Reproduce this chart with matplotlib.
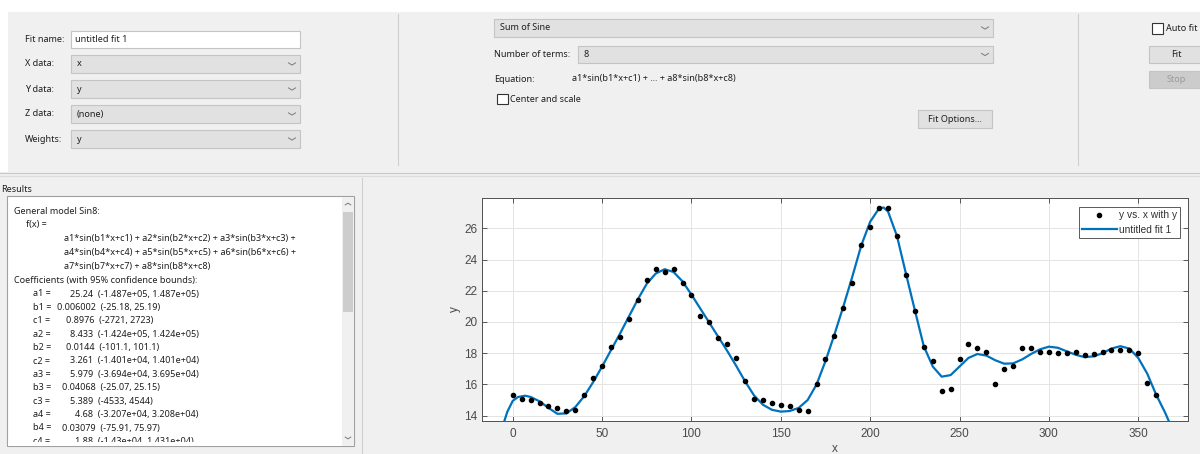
import numpy as np
import matplotlib.pyplot as plt
from matplotlib.patches import Rectangle
from matplotlib.lines import Line2D

# ---- data ----
x_data = [0, 5, 10, 15, 20, 25, 30, 35, 40, 45, 50, 55, 60, 65, 70, 75, 80, 85, 90, 95,
          100, 105, 110, 115, 120, 125, 130, 135, 140, 145, 150, 155, 160, 165, 170, 175,
          180, 185, 190, 195, 200, 205, 210, 215, 220, 225, 230, 235, 240, 245, 250, 255,
          260, 265, 270, 275, 280, 285, 290, 295, 300, 305, 310, 315, 320, 325, 330, 335,
          340, 345, 350, 355, 360]
y_data = [15.30, 15.09, 15.00, 14.81, 14.60, 14.49, 14.30, 14.38, 15.30, 16.41, 17.20, 18.40,
          19.02, 20.21, 21.41, 22.71, 23.42, 23.20, 23.42, 22.50, 21.71, 20.41, 20.00, 19.00,
          18.61, 17.69, 16.20, 15.09, 15.00, 14.81, 14.70, 14.60, 14.38, 14.30, 16.00, 17.61,
          19.12, 20.92, 22.50, 24.91, 26.11, 27.32, 27.32, 25.51, 23.01, 20.70, 18.40, 17.50,
          15.60, 15.71, 17.61, 18.61, 18.31, 18.10, 16.00, 17.01, 17.20, 18.31, 18.31, 18.10,
          18.10, 17.99, 17.99, 18.10, 17.91, 17.95, 18.10, 18.21, 18.21, 18.21, 17.99, 16.11,
          15.30]

# fitted curve
x_fit = [-5, -3, 0, 3, 7, 10, 15, 20, 25, 30, 35, 40, 45, 50, 55, 60, 65, 70, 75, 80, 85,
         90, 95, 100, 105, 110, 115, 120, 125, 130, 135, 140, 145, 150, 155, 160, 165, 170,
         175, 180, 185, 190, 195, 200, 205, 207.5, 210, 215, 220, 225, 230, 235, 240, 245,
         250, 255, 260, 265, 270, 275, 280, 285, 290, 295, 300, 305, 310, 315, 320, 325,
         330, 335, 340, 345, 350, 355, 360, 365, 370]
y_fit = [13.55, 14.26, 14.95, 15.20, 15.28, 15.20, 14.92, 14.50, 14.12, 14.15, 14.55, 15.25,
         16.15, 17.15, 18.20, 19.25, 20.35, 21.45, 22.45, 23.10, 23.38, 23.20, 22.60, 21.75,
         20.85, 19.95, 19.05, 18.15, 17.20, 16.20, 15.30, 14.70, 14.38, 14.26, 14.30, 14.50,
         15.00, 16.00, 17.50, 19.20, 21.00, 22.90, 24.90, 26.42, 27.28, 27.33, 27.07, 25.50,
         23.10, 20.75, 18.45, 17.15, 16.50, 16.60, 17.15, 17.70, 17.95, 17.85, 17.55, 17.33,
         17.35, 17.60, 17.95, 18.25, 18.42, 18.35, 18.12, 17.90, 17.75, 17.80, 18.00, 18.30,
         18.45, 18.30, 17.70, 16.70, 15.35, 14.20, 12.90]

x_ticks = [0, 50, 100, 150, 200, 250, 300, 350]
y_ticks = [14, 16, 18, 20, 22, 24, 26]

coef_names = ['a1', 'b1', 'c1', 'a2', 'b2', 'c2', 'a3', 'b3', 'c3', 'a4', 'b4', 'c4']
coef_values = ['25.24', '0.006002', '0.8976', '8.433', '0.0144', '3.261', '5.979',
               '0.04068', '5.389', '4.68', '0.03079', '1.88']
coef_bounds = ['(-1.487e+05, 1.487e+05)', '(-25.18, 25.19)', '(-2721, 2723)',
               '(-1.424e+05, 1.424e+05)', '(-101.1, 101.1)', '(-1.401e+04, 1.401e+04)',
               '(-3.694e+04, 3.695e+04)', '(-25.07, 25.15)', '(-4533, 4544)',
               '(-3.207e+04, 3.208e+04)', '(-75.91, 75.97)', '(-1.43e+04, 1.431e+04)']

ui_font = 'Noto Sans'
ui_size = 6.5
ui_col = '#1e1e1e'
matlab_blue = '#0072BD'

fig = plt.figure(figsize=(12, 4.54), dpi=100, facecolor='#f0f0f0')

# full-figure axes in pixel coordinates for the tool's widgets
ui = fig.add_axes([0, 0, 1, 1])
ui.set_xlim(0, 1200)
ui.set_ylim(454, 0)
ui.axis('off')


def rect(x0, y0, x1, y1, fc, ec='none', lw=0.8, z=1):
    ui.add_patch(Rectangle((x0, y0), x1 - x0, y1 - y0, facecolor=fc, edgecolor=ec, lw=lw, zorder=z))


def label(x, y, s, ha='left', color=ui_col, size=ui_size, **kw):
    return ui.text(x, y, s, ha=ha, va='center', fontsize=size, family=ui_font, color=color, **kw)


def chevron(cx, cy, w=3.5, h=2.2, up=False):
    d = -h if up else h
    ui.add_line(Line2D([cx - w, cx, cx + w], [cy - d / 2, cy + d / 2, cy - d / 2],
                       color='#7a7a7a', lw=0.7, zorder=6))


def dropdown(x0, y0, x1, y1, text):
    rect(x0, y0, x1, y1, '#e1e1e1', '#c4c4c4', z=2)
    label(x0 + 6, (y0 + y1) / 2, text)
    chevron(x1 - 8, (y0 + y1) / 2)


def button(x0, y0, x1, y1, text, fc='#e1e1e1', tc=ui_col):
    rect(x0, y0, x1, y1, fc, '#c4c4c4', z=2)
    label((x0 + x1) / 2, (y0 + y1) / 2, text, ha='center', color=tc)


def checkbox(x0, y0, text):
    rect(x0, y0, x0 + 10.5, y0 + 10.5, 'white', '#333333', lw=0.8, z=2)
    label(x0 + 13.5, y0 + 5.5, text)


# window background pieces
rect(0, 0, 1200, 12, 'white', z=0)
rect(0, 0, 8, 172, 'white', z=0)
ui.add_line(Line2D([0, 1200], [173, 173], color='#c8c8c8', lw=0.8))
ui.add_line(Line2D([0, 1200], [176, 176], color='#dcdcdc', lw=0.8))
ui.add_line(Line2D([398, 398], [14, 165], color='#cfcfcf', lw=0.8))
ui.add_line(Line2D([1078, 1078], [14, 165], color='#cfcfcf', lw=0.8))
ui.add_line(Line2D([362, 362], [178, 454], color='#cfcfcf', lw=0.8))

# left panel: data selection
label(25, 40, 'Fit name:')
rect(71, 31, 300, 48, 'white', '#c4c4c4', z=2)
label(75, 39.5, 'untitled fit 1')
label(25, 64, 'X data:')
dropdown(71, 55, 300, 73, 'x')
label(25, 89, 'Y data:')
dropdown(71, 80, 300, 98, 'y')
label(25, 114, 'Z data:')
dropdown(71, 105, 300, 123, '(none)')
label(25, 139, 'Weights:')
dropdown(71, 130, 300, 148, 'y')

# middle panel: model selection
dropdown(494, 19, 993, 37, 'Sum of Sine')
label(494, 54.5, 'Number of terms:')
dropdown(578, 46, 993, 63, '8')
label(494, 79, 'Equation:')
label(572, 79, 'a1*sin(b1*x+c1) + ... + a8*sin(b8*x+c8)')
checkbox(497, 93.5, 'Center and scale')
button(918, 110, 992, 128, 'Fit Options...')

# right panel: fit buttons
checkbox(1152, 23, 'Auto fit')
button(1149, 46, 1204, 63, 'Fit')
button(1149, 71, 1204, 88, 'Stop', fc='#cccccc', tc='#9a9a9a')

# results panel
label(1, 190, 'Results')
rect(7, 196, 354, 446, 'white', '#a0a0a0', z=1)

label(14, 212, 'General model Sin8:')
label(26, 225, 'f(x) =')
label(64, 239, 'a1*sin(b1*x+c1) + a2*sin(b2*x+c2) + a3*sin(b3*x+c3) +')
label(64, 253, 'a4*sin(b4*x+c4) + a5*sin(b5*x+c5) + a6*sin(b6*x+c6) +')
label(64, 266, 'a7*sin(b7*x+c7) + a8*sin(b8*x+c8)')
label(14, 280, 'Coefficients (with 95% confidence bounds):')
for i, (nm, val, bnd) in enumerate(zip(coef_names, coef_values, coef_bounds)):
    yy = 294 + i * 13.4
    label(33, yy, nm + ' =')
    # values are right-aligned in a fixed-width field, as in the MATLAB output
    label(57 + (8 - len(val)) * 4.5, yy, val + '  ' + bnd)

# the text area stops a bit above the border, cutting the last row in half
rect(7.5, 441.5, 353.5, 445.6, 'white', z=5)
# scrollbar
rect(342, 197, 353.5, 445.5, '#f0f0f0', z=5)
rect(343, 212, 353, 312, '#cdcdcd', z=5)
chevron(348, 204, w=2.8, h=1.8, up=True)
chevron(348, 438, w=2.8, h=1.8)

# ---- the fit plot ----
L, R, T, B = 482, 1188.3, 198.3, 420.7
ax = fig.add_axes([L / 1200, (454 - B) / 454, (R - L) / 1200, (B - T) / 454])
ax.set_facecolor('white')
ax.plot(x_data, y_data, 'o', color='black', ms=3.0, label='y vs. x with y', zorder=3)
ax.plot(x_fit, y_fit, '-', color=matlab_blue, lw=1.6, label='untitled fit 1', zorder=2)
ax.set_xlim(-17.2, 378)
ax.set_ylim(13.68, 27.92)
ax.set_xticks(x_ticks)
ax.set_yticks(y_ticks)
ax.grid(True, color='#e4e4e4', lw=0.7)
ax.set_axisbelow(True)
ax.tick_params(direction='in', top=True, right=True, length=3.5, width=0.6,
               color='#404040', labelcolor='#4a4a4a', labelsize=8.5)
ax.tick_params(axis='x', pad=5)
ax.tick_params(axis='y', pad=3.5)
for lab in ax.get_xticklabels() + ax.get_yticklabels():
    lab.set_family('Liberation Sans')
for sp in ax.spines.values():
    sp.set_color('#505050')
    sp.set_linewidth(0.7)
ax.set_xlabel('x', fontsize=8.5, family='Liberation Sans', color='#4a4a4a', labelpad=2.5)
ax.set_ylabel('y', fontsize=8.5, family='Liberation Sans', color='#4a4a4a', labelpad=2)

leg = ax.legend(loc='upper right', bbox_to_anchor=(1 - 8 / (R - L), 1 - 9 / (B - T)),
                borderaxespad=0, fancybox=False, framealpha=1, edgecolor='#404040',
                prop={'family': 'Liberation Sans', 'size': 7.3}, handlelength=3.4,
                handletextpad=0.25, labelspacing=0.45, borderpad=0.3)
leg.get_frame().set_linewidth(0.6)
for t in leg.get_texts():
    t.set_color('#303030')

fig.savefig('out.png', dpi=100, facecolor=fig.get_facecolor())
